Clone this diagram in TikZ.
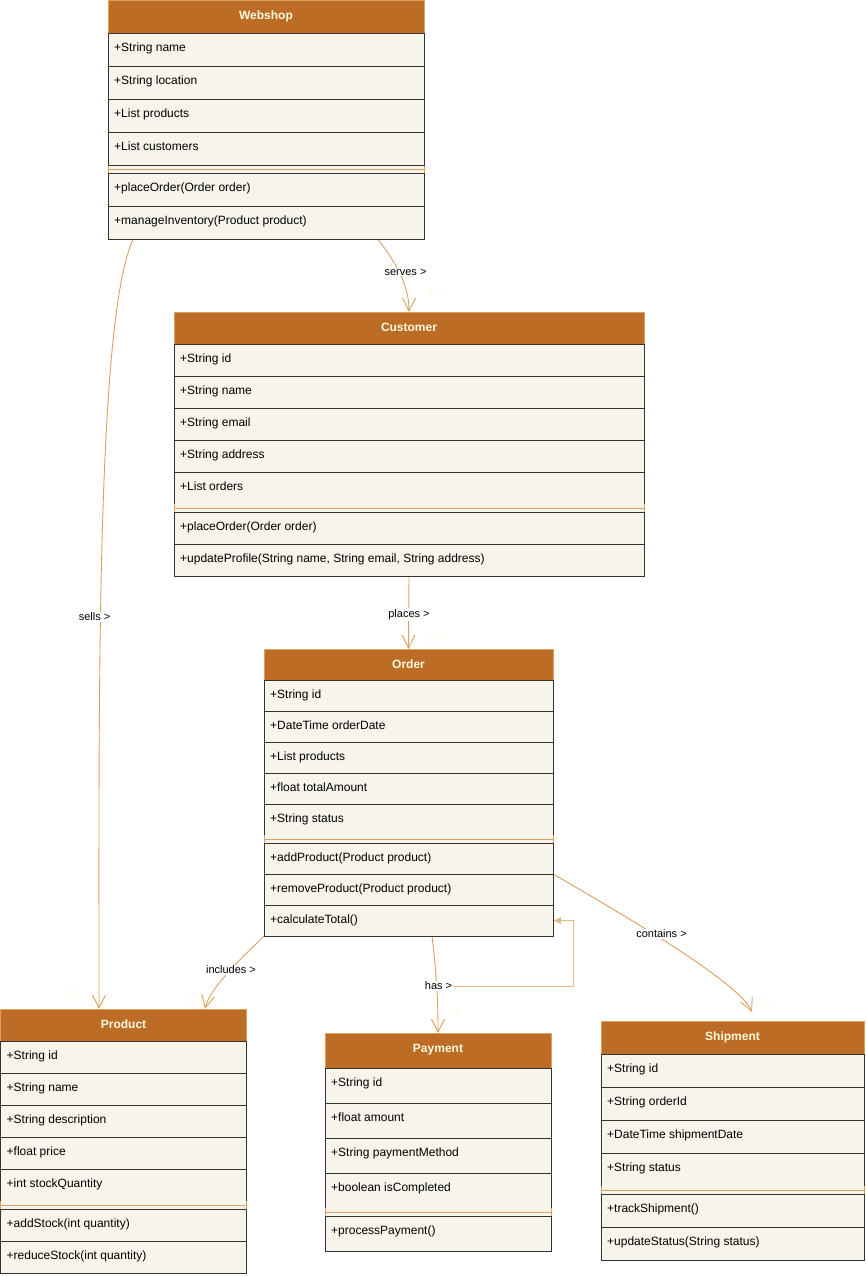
\documentclass[tikz,border=0pt]{standalone}
\usepackage{fontspec}
\setmainfont{Liberation Sans}
\usetikzlibrary{arrows.meta,calc}

\definecolor{hdrfill}{HTML}{BC6C25}
\definecolor{hdrline}{HTML}{DDA15E}
\definecolor{hdrtext}{HTML}{FEFAE0}
\definecolor{rowfill}{HTML}{F7F4EC}
\definecolor{rowline}{HTML}{333333}
\definecolor{edgecol}{HTML}{DDA15E}
\definecolor{multcol}{HTML}{FEFAE0}

\pgfdeclarelayer{bg}
\pgfdeclarelayer{edges}
\pgfsetlayers{bg,edges,main}

\tikzset{
  classhead/.style={rectangle, draw=hdrline, fill=hdrfill, line width=0.9pt, inner sep=0pt, outer sep=0pt, anchor=north west},
  classtitle/.style={anchor=base, text=hdrtext, inner sep=0pt, font=\fontsize{12}{14}\selectfont\bfseries},
  classrow/.style={rectangle, draw=rowline, fill=rowfill, line width=0.9pt, inner sep=0pt, outer sep=0pt, anchor=north west},
  rowtext/.style={anchor=base west, inner sep=0pt, text=black, font=\fontsize{12}{14}\selectfont},
  classsep/.style={rectangle, fill=rowfill, inner sep=0pt, outer sep=0pt, anchor=north west, minimum height=8pt},
  sepline/.style={draw=hdrline, line width=0.9pt},
  assoc/.style={draw=edgecol, line width=0.9pt, -{Straight Barb[length=13pt,width=13pt]}},
  selfref/.style={draw=edgecol!75, line width=0.9pt, -{Latex[length=8pt,width=7pt]}},
  edgelabel/.style={fill=white, inner sep=1pt, text=black, font=\fontsize{11}{13}\selectfont},
  multlabel/.style={text=multcol, inner sep=0pt, font=\fontsize{11}{13}\selectfont},
}

% #1 id, #2 title, #3 left, #4 top, #5 width, #6 header height,
% #7 row height, #8 attributes, #9 operations
\newcommand{\umlclass}[9]{%
  \node[classhead, minimum width=#5pt, minimum height=#6pt] (#1) at (#3,#4) {};
  \node[classtitle] (#1-title) at ($(#1.north)+(0,19)$) {#2};
  \coordinate (#1-cur) at (#1.south west);
  \foreach \t [count=\i] in {#8} {
    \node[classrow, minimum width=#5pt, minimum height=#7pt] (#1-a\i) at (#1-cur) {};
    \node[rowtext] (#1-at\i) at ($(#1-a\i.north west)+(6,18)$) {\t};
    \coordinate (#1-cur) at (#1-a\i.south west);
  }
  \node[classsep, minimum width=#5pt] (#1-sep) at (#1-cur) {};
  \draw[sepline] (#1-sep.west) -- (#1-sep.east);
  \draw[sepline] (#1-sep.north west) -- (#1-sep.south west)
                 (#1-sep.north east) -- (#1-sep.south east);
  \coordinate (#1-cur) at (#1-sep.south west);
  \foreach \t [count=\i] in {#9} {
    \node[classrow, minimum width=#5pt, minimum height=#7pt] (#1-m\i) at (#1-cur) {};
    \node[rowtext] (#1-mt\i) at ($(#1-m\i.north west)+(6,18)$) {\t};
    \coordinate (#1-cur) at (#1-m\i.south west);
  }
}

\begin{document}
\begin{tikzpicture}[x=1pt, y=-1pt]
  \useasboundingbox (0,0) rectangle (865,1277);
  \begin{pgfonlayer}{bg}
    \fill[white] (0,0) rectangle (865,1277);
  \end{pgfonlayer}

  % classes
  \umlclass{web}{Webshop}{108}{0.5}{316}{33}{33}
    {+String name, +String location, +List products, +List customers}
    {+placeOrder(Order order), +manageInventory(Product product)}
  \umlclass{cust}{Customer}{174}{312}{470}{32}{32}
    {+String id, +String name, +String email, +String address, +List orders}
    {+placeOrder(Order order), {+updateProfile(String name, String email, String address)}}
  \umlclass{ord}{Order}{264}{649}{289}{31}{31}
    {+String id, +DateTime orderDate, +List products, +float totalAmount, +String status}
    {+addProduct(Product product), +removeProduct(Product product), +calculateTotal()}
  \umlclass{prod}{Product}{0.5}{1009}{246}{32}{32}
    {+String id, +String name, +String description, +float price, +int stockQuantity}
    {+addStock(int quantity), +reduceStock(int quantity)}
  \umlclass{pay}{Payment}{325}{1033}{226}{35}{35}
    {+String id, +float amount, +String paymentMethod, +boolean isCompleted}
    {+processPayment()}
  \umlclass{ship}{Shipment}{601}{1021}{263}{33}{33}
    {+String id, +String orderId, +DateTime shipmentDate, +String status}
    {+trackShipment(), +updateStatus(String status)}

  % association labels
  \node[edgelabel] (servesl) at (405.5,272) {serves >};
  \node[edgelabel] (sellsl) at (94.5,617) {sells >};
  \node[edgelabel] (placesl) at (409,614.5) {places >};
  \node[edgelabel] (inclul) at (231,970) {includes >};
  \node[edgelabel] (hasl) at (438.5,986) {has >};
  \node[edgelabel] (contl) at (661.5,934) {contains >};

  % multiplicities
  \node[multlabel] (m-serves) at (435,293) {0..*};
  \node[multlabel] (m-places) at (436,641) {0..*};
  \node[multlabel] (m-sells) at (73,994) {0..*};
  \node[multlabel] (m-inclu) at (194,1002) {0..*};
  \node[multlabel] (m-has) at (458,1013) {1};
  \node[multlabel] (m-cont) at (768,1001) {1};

  % associations
  \begin{pgfonlayer}{edges}
    \draw[assoc] ($(web-m2.south west)+(270,0)$)
      .. controls +(18,23) and +(0,-27) .. (cust.north);
    \draw[assoc] ($(web-m2.south west)+(25,0)$)
      .. controls +(-37,81) and +(0,-309) .. ($(prod.north west)+(98.5,0)$);
    \draw[assoc] (cust-m2.south) -- (ord.north);
    \draw[assoc] (ord-m3.south west)
      .. controls +(-22,22) and +(5,-22) .. ($(prod.north west)+(204.5,0)$);
    \draw[assoc] ($(ord-m3.south west)+(168,0)$)
      .. controls +(4,35) and +(0,-40) .. (pay.north);
    \draw[assoc] (ord-m1.south east)
      .. controls +(97,56) and +(-12,-27) .. ($(ship.north west)+(151,-9)$);
    \draw[selfref] (hasl) -| ($(ord-m3.east)+(20,0)$) -- (ord-m3.east);
  \end{pgfonlayer}
\end{tikzpicture}
\end{document}
